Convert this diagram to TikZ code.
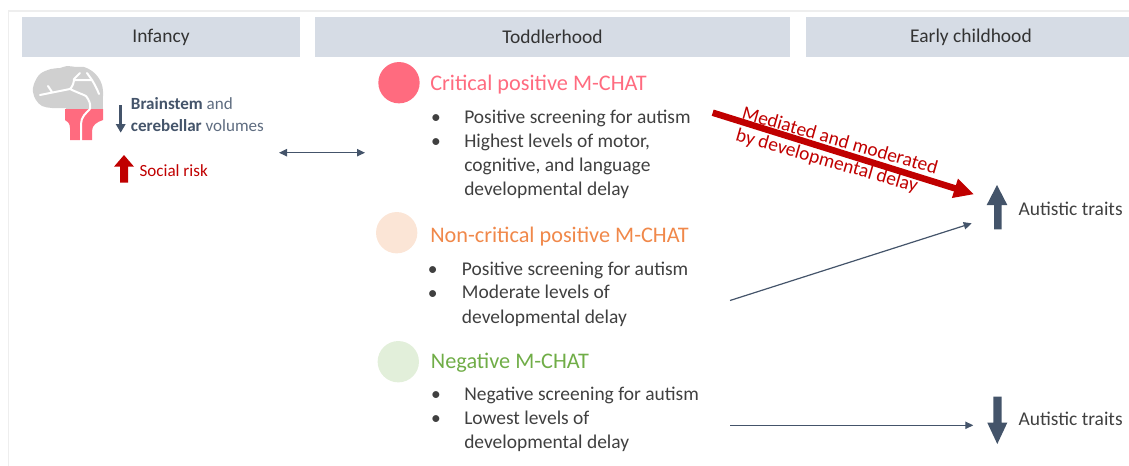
\documentclass[tikz,border=0pt]{standalone}
\usepackage{fontspec}
\setmainfont{Carlito}
\usetikzlibrary{arrows.meta}

\definecolor{hdrfill}{HTML}{D6DCE5}
\definecolor{slate}{HTML}{44546A}
\definecolor{slatelight}{HTML}{5E6C80}
\definecolor{txt}{HTML}{404040}
\definecolor{hdrtxt}{HTML}{333333}
\definecolor{deepred}{HTML}{C00000}
\definecolor{critpink}{HTML}{FF6B7F}
\definecolor{noncritfill}{HTML}{FBE5D6}
\definecolor{noncrittxt}{HTML}{F0884A}
\definecolor{negfill}{HTML}{E2EFDA}
\definecolor{negtxt}{HTML}{70AD47}
\definecolor{braingray}{HTML}{D0D0D0}
\definecolor{framegray}{HTML}{EEEEEE}

% multi-line nodes are placed by the baseline of their last line
\tikzset{
  hdr/.style={fill=hdrfill, text=hdrtxt, inner sep=0pt, minimum height=30pt,
    font=\fontsize{14.6}{17}\selectfont},
  dot/.style={circle, inner sep=0pt, minimum size=31pt},
  grptitle/.style={anchor=base west, inner sep=0pt, font=\fontsize{16.7}{20}\selectfont},
  item/.style={anchor=base west, inner sep=0pt, align=left, text=txt,
    font=\fontsize{14.6}{18.2}\selectfont},
  bul/.style={anchor=base, inner sep=0pt, text=txt, font=\fontsize{14.6}{18.2}\selectfont},
  thinarrow/.style={draw=slate, line width=0.9pt, -{Triangle[length=6pt,width=5.5pt]}},
  blockarrow/.style={fill=slate},
  traits/.style={anchor=base west, inner sep=0pt, text=txt, font=\fontsize{14.6}{18}\selectfont},
  fold/.style={white, line width=1.5pt, line cap=round, line join=round},
}

\begin{document}
\begin{tikzpicture}[x=0.75pt,y=-0.75pt]
\useasboundingbox (0,0) rectangle (1129,465);

% outer frame
\draw[framegray, line width=1.2pt] (8.3,470) -- (8.3,10.7) -- (1135,10.7);

% period headers
\node[hdr, minimum width=208.5pt] (infancy) at (161,37.3) {Infancy};
\node[hdr, minimum width=356.25pt] (toddler) at (552.5,37.3) {Toddlerhood};
\node[hdr, minimum width=247.5pt] (early) at (971,37.3) {Early childhood};

% brain icon: grey cerebrum, pink brainstem and cerebellum
\fill[braingray] plot[smooth cycle, tension=0.6] coordinates {
  (34,84) (40,74) (51,69) (60,68) (67,66) (76,67) (84,67) (92,71) (98,77)
  (102,85) (103,96) (100,106) (80,108) (64,108) (52,108) (42,106) (36,100) (33,92)};
\fill[braingray] (66,96) rectangle (103,109.5);
\draw[fold]
  (40,95) .. controls (50,93) and (60,91) .. (70,89)
  (52,92) -- (48,86)
  (70,89) .. controls (73,86) and (74,82) .. (74,79)
  (74,79) -- (80,73)
  (74,80) .. controls (80,80) and (86,80) .. (92,80)
  (87,73) -- (92,80)
  (92,80) .. controls (95,85) and (97,89) .. (99,94)
  (70,89) .. controls (76,92) and (82,94) .. (86,96)
  (86,96) .. controls (89,100) and (91,104) .. (90,109);
\fill[critpink] (65,109) -- (103,109) -- (103,120)
  .. controls (97,122) and (92,125) .. (92,131) -- (92,140) -- (70,140) -- (70,128)
  .. controls (70,123) and (67,121) .. (65,120) -- cycle;
\draw[fold] (90,109) .. controls (86,113) and (81,117) .. (81,124) -- (81,141);

% brainstem and cerebellar volumes
\coordinate (voltop) at (120.7,105);
\coordinate (volbot) at (120.7,132.7);
\draw[draw=slate, line width=2pt, -{Triangle[length=6.5pt,width=7pt]}] (voltop) -- (volbot);
\node[anchor=base west, inner sep=0pt, align=left, text=slatelight,
  font=\fontsize{12.8}{16.3}\selectfont] (vol) at (130.7,131.7)
  {\textcolor{slate}{\textbf{Brainstem}} and\\\textcolor{slate}{\textbf{cerebellar}} volumes};

% social risk
\fill[deepred] (124,155) -- (134,166.7) -- (128,166.7) -- (128,182.7) -- (120,182.7)
  -- (120,166.7) -- (114,166.7) -- cycle;
\node[anchor=base west, inner sep=0pt, text=deepred, font=\fontsize{12.8}{16}\selectfont]
  (social) at (139.3,176.7) {Social risk};

% link between infancy and toddlerhood
\coordinate (linkL) at (279,152.7);
\coordinate (linkR) at (365,152.7);
\draw[draw=slate, line width=0.9pt, {Triangle[length=6pt,width=5.5pt]}-{Triangle[length=6pt,width=5.5pt]}]
  (linkL) -- (linkR);

% critical positive group
\node[dot, fill=critpink] (critdot) at (399,82.7) {};
\node[grptitle, text=critpink] (crit) at (430,90) {Critical positive M-CHAT};
\node[bul] (cb1) at (436,123) {•};
\node[item] (c1) at (464,123) {Positive screening for autism};
\node[bul] (cb2) at (436,147.3) {•};
\node[item] (c2) at (464,195.8) {Highest levels of motor,\\cognitive, and language\\developmental delay};

% non-critical positive group
\node[dot, fill=noncritfill] (ncdot) at (396.7,232.7) {};
\node[grptitle, text=noncrittxt] (noncrit) at (430,242.3) {Non-critical positive M-CHAT};
\node[bul] (nb1) at (432.7,275) {•};
\node[item] (n1) at (461.7,275) {Positive screening for autism};
\node[bul] (nb2) at (432.7,299) {•};
\node[item] (n2) at (461.7,323.2) {Moderate levels of\\developmental delay};

% negative group
\node[dot, fill=negfill] (negdot) at (398.3,361.7) {};
\node[grptitle, text=negtxt] (neg) at (430.7,368.3) {Negative M-CHAT};
\node[bul] (gb1) at (436,400) {•};
\node[item] (g1) at (464,400) {Negative screening for autism};
\node[bul] (gb2) at (436,424) {•};
\node[item] (g2) at (464,448.3) {Lowest levels of\\developmental delay};

% outcomes
\fill[blockarrow] (997,185) -- (1007.3,205) -- (1001.7,205) -- (1001.7,229.3) -- (994,229.3)
  -- (994,205) -- (986.7,205) -- cycle;
\node[traits] (high) at (1018.3,215) {Autistic traits};
\fill[blockarrow] (997.3,444) -- (1007.3,422.7) -- (1001.7,422.7) -- (1001.7,396.7) -- (993.3,396.7)
  -- (993.3,422.7) -- (987.3,422.7) -- cycle;
\node[traits] (low) at (1018.3,425) {Autistic traits};

% paths to outcomes
\coordinate (critout) at (712.7,112.7);
\coordinate (critin) at (974,194.3);
\draw[draw=deepred, line width=4.9pt, -{Triangle[length=15pt,width=14pt]}] (critout) -- (critin);
\node[anchor=base west, inner sep=0pt, align=left, rotate=-16, text=deepred,
  font=\fontsize{14.6}{17}\selectfont] (medlabel) at (734.5,140.3)
  {Mediated and moderated\\by developmental delay};

\coordinate (ncout) at (730,300.5);
\coordinate (ncin) at (971.7,223.3);
\draw[thinarrow] (ncout) -- (ncin);

\coordinate (negout) at (730,425.3);
\coordinate (negin) at (973.3,425.3);
\draw[thinarrow] (negout) -- (negin);
\end{tikzpicture}
\end{document}
